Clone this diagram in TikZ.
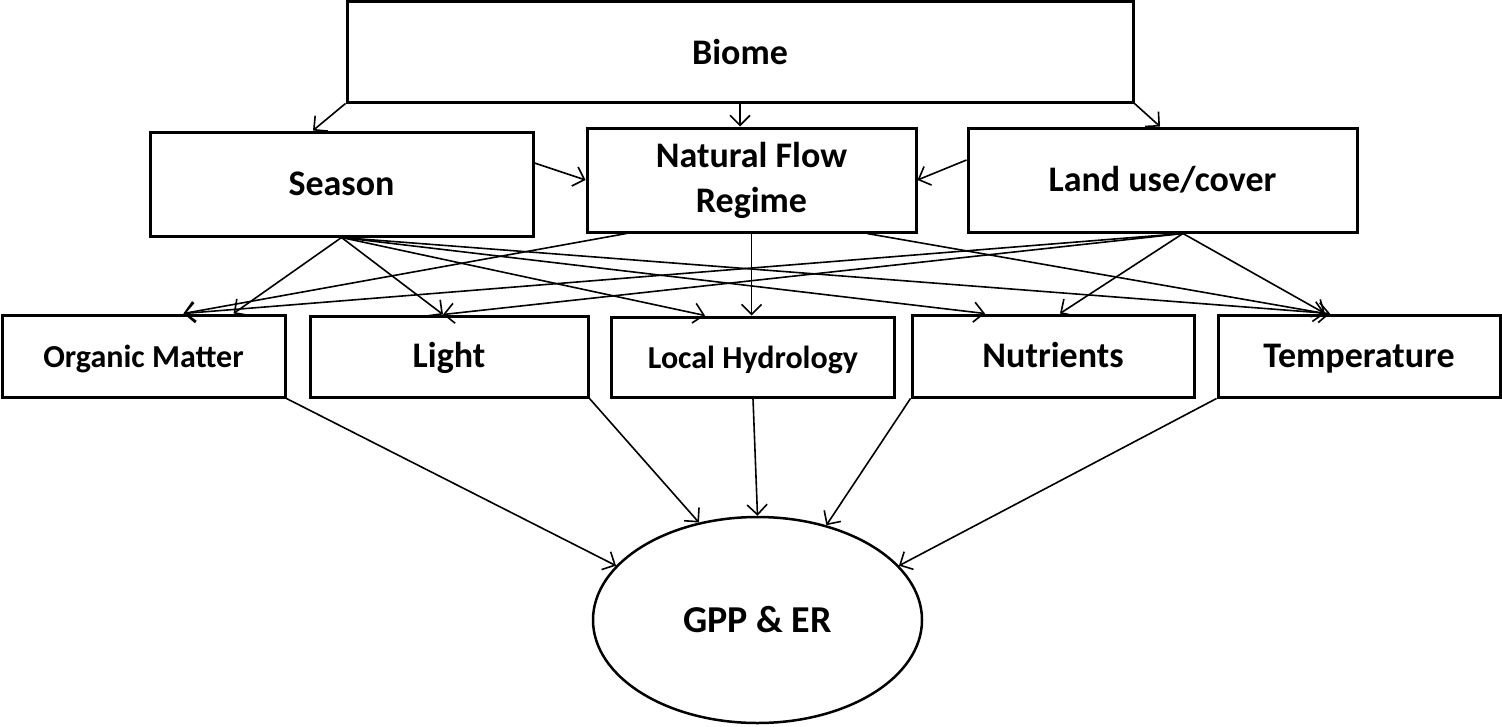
\documentclass[tikz,border=0pt]{standalone}
\usepackage{fontspec}
\setmainfont{Carlito}
\usetikzlibrary{arrows.meta,shapes.geometric}
\tikzset{
  box/.style={draw, line width=3pt, inner sep=0pt, font=\bfseries\fontsize{36}{40}\selectfont, align=center},
  smallbox/.style={box, font=\bfseries\fontsize{32}{38}\selectfont},
  rowbox/.style={text height=28pt, text depth=6pt},
  arr/.style={line width=1.6pt, -{Straight Barb[length=10pt,width=20pt,line width=1.6pt]}},
}
\begin{document}
\begin{tikzpicture}[x=1pt,y=-1pt]
\useasboundingbox (0,0) rectangle (1502,726);
% top
\node[box, minimum width=786pt, minimum height=101pt] (biome) at (740,51.5) {Biome};
% second row
\node[box, minimum width=383pt, minimum height=104pt] (season) at (341.5,184) {Season};
\node[box, minimum width=329pt, minimum height=104pt] (nfr) at (751.5,180) {Natural Flow\\[5pt]Regime};
\node[box, minimum width=389pt, minimum height=104pt] (land) at (1162.5,180) {Land use/cover};
% third row
\node[smallbox, rowbox, minimum width=283pt, minimum height=82pt] (om) at (143.5,356) {Organic Matter};
\node[box, rowbox, minimum width=278pt, minimum height=81pt] (light) at (449,356.5) {Light};
\node[smallbox, rowbox, minimum width=283pt, minimum height=80pt] (lh) at (753,357) {Local Hydrology};
\node[box, rowbox, minimum width=282pt, minimum height=82pt] (nut) at (1053,356) {Nutrients};
\node[box, rowbox, minimum width=282pt, minimum height=82pt] (temp) at (1359,356) {Temperature};
% result
\node[draw, ellipse, line width=2.5pt, minimum width=329pt, minimum height=206pt, inner sep=0pt,
      font=\bfseries\fontsize{38}{44}\selectfont] (gpp) at (757.5,620) {GPP \& ER};
% biome arrows
\draw[arr] (biome.south west) -- ([xshift=-28.5pt]season.north);
\draw[arr] (biome.south) -- (biome.south |- nfr.north);
\draw[arr] (biome.south east) -- ([xshift=-2.5pt]land.north);
% lateral
\draw[arr] ([yshift=21pt]season.east) -- (nfr.west);
\draw[arr] ([yshift=20pt]land.west) -- (nfr.east);
% season
\draw[arr] (season.south) -- ([xshift=90pt]om.north);
\draw[arr] (season.south) -- ([xshift=-6pt]light.north);
\draw[arr] (season.south) -- ([xshift=-48pt]lh.north);
\draw[arr] (season.south) -- ([xshift=-68pt]nut.north);
\draw[arr] (season.south) -- ([xshift=-29pt]temp.north);
% natural flow
\draw[arr] ([xshift=-125pt]nfr.south) -- ([xshift=40pt]om.north);
\draw[arr] (nfr.south) -- (nfr.south |- lh.north);
\draw[arr] ([xshift=115.5pt]nfr.south) -- ([xshift=-34pt]temp.north);
% land use
\draw[arr] ([xshift=20.5pt]land.south) -- ([xshift=40pt]om.north);
\draw[arr] ([xshift=20.5pt]land.south) -- ([xshift=-6pt]light.north);
\draw[arr] ([xshift=20.5pt]land.south) -- ([xshift=7pt]nut.north);
\draw[arr] ([xshift=20.5pt]land.south) -- ([xshift=-34pt]temp.north);
% to GPP
\draw[arr] (om.south east) -- (gpp.159);
\draw[arr] (light.south east) -- (gpp.121);
\draw[arr] (lh.south) -- (gpp.north);
\draw[arr] (nut.south west) -- (gpp.54);
\draw[arr] (temp.south west) -- (gpp.21);
\end{tikzpicture}
\end{document}
